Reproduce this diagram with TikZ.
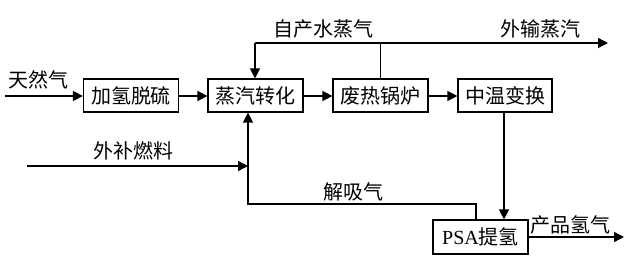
\documentclass[tikz,border=0pt]{standalone}
\usepackage{fontspec}
\setmainfont{Liberation Serif}
\newfontfamily\cjk{Noto Sans CJK SC}
\usetikzlibrary{arrows.meta}
\begin{document}
\begin{tikzpicture}[x=1pt,y=-1pt,
  every node/.style={font=\cjk\fontsize{20}{23}\selectfont, inner sep=0pt},
  procbox/.style={draw, line width=1.2pt, minimum width=95pt, minimum height=33pt},
  flow/.style={line width=1.4pt},
  arr/.style={flow, -{Triangle[length=10pt,width=10pt]}}]
\useasboundingbox (0,0) rectangle (641,273);
% boxes
\node[procbox] (jq) at (131,95.5) {加氢脱硫};
\node[procbox] (zq) at (255.5,95.5) {蒸汽转化};
\node[procbox] (fr) at (380.5,95.5) {废热锅炉};
\node[procbox, minimum width=94pt] (zw) at (505,95.5) {中温变换};
\node[procbox, minimum height=34pt] (psa) at (480.5,237) {{\rmfamily PSA}提氢};
% labels
\node (l1) at (39,80) {天然气};
\node (l2) at (323,29) {自产水蒸气};
\node (l3) at (540,29) {外输蒸汽};
\node (l4) at (133,151) {外补燃料};
\node (l5) at (353,192) {解吸气};
\node (l6) at (570,225) {产品氢气};
% coordinates
\coordinate (gasin) at (5,96);
\coordinate (top1) at (255,43);
\coordinate (topend) at (608,43);
\coordinate (fuel) at (27,166);
\coordinate (j1) at (476,204);
\coordinate (j2) at (248,204);
\coordinate (h2out) at (624,237);
% connectors
\draw[arr] (gasin) -- (jq.west |- gasin);
\draw[arr] (jq.east |- gasin) -- (zq.west |- gasin);
\draw[arr] (zq.east |- gasin) -- (fr.west |- gasin);
\draw[arr] (fr.east |- gasin) -- (zw.west |- gasin);
\draw[arr] (top1) -- (zq.north -| top1);
\draw[flow] (top1) -- (fr.north |- top1);
\draw[arr] (fr.north) -- (fr.north |- top1) -- (topend);
\draw[arr] (zw.south -| 504,0) -- (psa.north -| 504,0);
\draw[arr] (psa.north -| j1) -- (j1) -- (j2) -- (zq.south -| j2);
\draw[arr] (fuel) -- (j2 |- fuel);
\draw[arr] (psa.east |- h2out) -- (h2out);
\end{tikzpicture}
\end{document}
